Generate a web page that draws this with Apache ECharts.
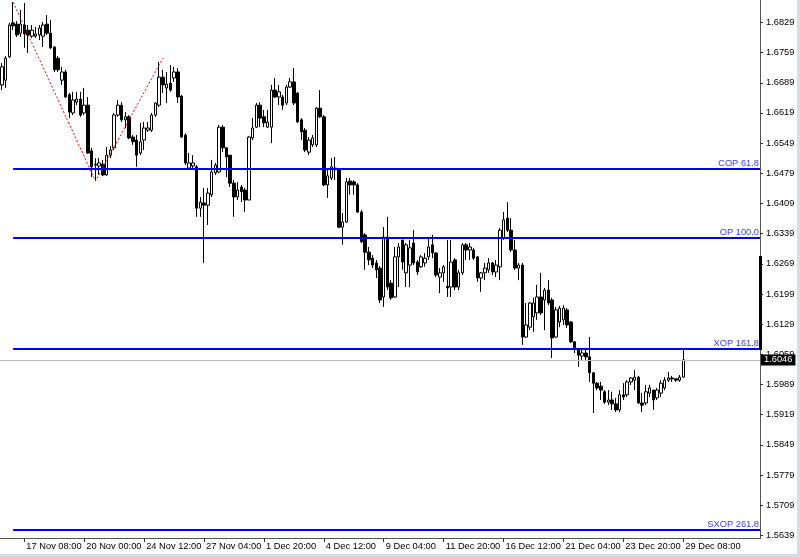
<!DOCTYPE html>
<html><head><meta charset="utf-8">
<script src="https://cdn.jsdelivr.net/npm/echarts@6/dist/echarts.min.js"></script>
<style>html,body{margin:0;padding:0;background:#fff;overflow:hidden}#c{width:800px;height:557px}</style>
</head><body><div id="c"></div>
<script>
const barCount = 203;
const tickIndex = [6, 22, 38, 54, 70, 86, 102, 118, 134, 150, 166, 182];
const tickLabels = ['17 Nov 08:00', '20 Nov 00:00', '24 Nov 12:00', '27 Nov 04:00', '1 Dec 20:00', '4 Dec 12:00', '9 Dec 04:00', '11 Dec 20:00', '16 Dec 12:00', '21 Dec 04:00', '23 Dec 20:00', '29 Dec 08:00'];
const priceTicks = [1.5639, 1.5709, 1.5779, 1.5849, 1.5919, 1.5989, 1.6059, 1.6129, 1.6199, 1.6269, 1.6339, 1.6409, 1.6479, 1.6549, 1.6619, 1.6689, 1.6759, 1.6829];
const priceMin = 1.56328;
const priceMax = 1.6881;
// [open, close, low, high]
const ohlc = [
[1.6684,1.6726,1.6672,1.6735],[1.6695,1.6746,1.6677,1.6751],[1.6749,1.6823,1.6746,1.6828],[1.6828,1.6821,1.6811,1.6876],
[1.6825,1.6800,1.6795,1.6832],[1.6804,1.6825,1.6795,1.6858],[1.6823,1.6802,1.6770,1.6874],[1.6811,1.6800,1.6758,1.6823],
[1.6797,1.6811,1.6793,1.6823],[1.6797,1.6802,1.6793,1.6818],[1.6800,1.6816,1.6788,1.6823],[1.6797,1.6823,1.6772,1.6830],
[1.6825,1.6804,1.6800,1.6846],[1.6804,1.6770,1.6767,1.6835],[1.6772,1.6719,1.6714,1.6774],[1.6746,1.6719,1.6714,1.6751],
[1.6695,1.6714,1.6684,1.6726],[1.6714,1.6656,1.6654,1.6719],[1.6661,1.6621,1.6607,1.6665],[1.6619,1.6649,1.6614,1.6668],
[1.6644,1.6651,1.6637,1.6668],[1.6651,1.6614,1.6610,1.6668],[1.6619,1.6637,1.6614,1.6677],[1.6637,1.6526,1.6524,1.6656],
[1.6531,1.6494,1.6470,1.6538],[1.6500,1.6498,1.6461,1.6514],[1.6496,1.6503,1.6475,1.6514],[1.6500,1.6475,1.6473,1.6510],
[1.6475,1.6521,1.6473,1.6540],[1.6521,1.6533,1.6514,1.6542],[1.6538,1.6614,1.6533,1.6619],[1.6614,1.6637,1.6610,1.6649],
[1.6637,1.6603,1.6598,1.6644],[1.6603,1.6610,1.6584,1.6621],[1.6610,1.6561,1.6558,1.6614],[1.6563,1.6552,1.6545,1.6568],
[1.6556,1.6521,1.6494,1.6568],[1.6526,1.6552,1.6521,1.6596],[1.6556,1.6584,1.6533,1.6598],[1.6579,1.6584,1.6575,1.6598],
[1.6579,1.6614,1.6575,1.6619],[1.6614,1.6642,1.6610,1.6644],[1.6637,1.6702,1.6633,1.6737],[1.6702,1.6684,1.6665,1.6719],
[1.6677,1.6686,1.6642,1.6714],[1.6688,1.6672,1.6668,1.6730],[1.6700,1.6714,1.6691,1.6726],
[1.6714,1.6656,1.6642,1.6723],[1.6658,1.6563,1.6561,1.6661],[1.6568,1.6503,1.6498,1.6572],[1.6491,1.6503,1.6487,1.6526],
[1.6496,1.6503,1.6487,1.6521],[1.6494,1.6398,1.6378,1.6498],[1.6398,1.6412,1.6378,1.6424],[1.6410,1.6405,1.6271,1.6445],
[1.6405,1.6433,1.6359,1.6445],[1.6429,1.6482,1.6424,1.6510],[1.6480,1.6498,1.6475,1.6503],[1.6482,1.6586,1.6480,1.6591],
[1.6586,1.6538,1.6528,1.6591],[1.6538,1.6517,1.6470,1.6540],[1.6521,1.6456,1.6447,1.6521],[1.6456,1.6424,1.6378,1.6463],
[1.6424,1.6440,1.6417,1.6459],[1.6447,1.6436,1.6412,1.6452],[1.6440,1.6417,1.6389,1.6445],[1.6417,1.6563,1.6417,1.6565],
[1.6561,1.6584,1.6556,1.6607],[1.6586,1.6637,1.6584,1.6642],[1.6637,1.6607,1.6586,1.6644],[1.6610,1.6596,1.6586,1.6626],
[1.6586,1.6598,1.6584,1.6626],[1.6586,1.6672,1.6549,1.6684],[1.6672,1.6656,1.6654,1.6700],[1.6656,1.6668,1.6637,1.6684],
[1.6656,1.6637,1.6626,1.6661],[1.6642,1.6679,1.6637,1.6684],[1.6679,1.6691,1.6677,1.6700],[1.6691,1.6642,1.6637,1.6723],
[1.6665,1.6598,1.6596,1.6668],[1.6603,1.6575,1.6556,1.6607],[1.6579,1.6533,1.6528,1.6584],[1.6528,1.6556,1.6521,1.6563],
[1.6545,1.6561,1.6540,1.6568],[1.6545,1.6630,1.6540,1.6633],[1.6630,1.6610,1.6607,1.6672],[1.6610,1.6452,1.6449,1.6614],
[1.6452,1.6473,1.6422,1.6487],[1.6468,1.6494,1.6463,1.6514],[1.6491,1.6487,1.6463,1.6517],[1.6487,1.6354,1.6352,1.6491],
[1.6354,1.6366,1.6313,1.6387],[1.6366,1.6459,1.6364,1.6468],
[1.6461,1.6452,1.6429,1.6468],[1.6459,1.6452,1.6429,1.6463],[1.6452,1.6389,1.6387,1.6456],[1.6389,1.6320,1.6317,1.6394],
[1.6336,1.6296,1.6255,1.6340],[1.6296,1.6278,1.6266,1.6308],[1.6282,1.6266,1.6259,1.6289],[1.6271,1.6255,1.6236,1.6278],
[1.6259,1.6185,1.6178,1.6264],[1.6192,1.6331,1.6169,1.6354],[1.6331,1.6215,1.6208,1.6378],[1.6224,1.6190,1.6185,1.6231],
[1.6192,1.6285,1.6190,1.6308],[1.6285,1.6308,1.6215,1.6317],[1.6324,1.6273,1.6255,1.6324],[1.6248,1.6313,1.6215,1.6317],
[1.6266,1.6306,1.6215,1.6324],[1.6317,1.6271,1.6266,1.6347],[1.6273,1.6250,1.6243,1.6278],[1.6262,1.6285,1.6259,1.6289],
[1.6271,1.6282,1.6262,1.6294],[1.6285,1.6308,1.6278,1.6329],[1.6313,1.6294,1.6282,1.6336],[1.6294,1.6243,1.6238,1.6296],
[1.6238,1.6248,1.6201,1.6259],[1.6248,1.6262,1.6227,1.6266],[1.6217,1.6213,1.6192,1.6324],[1.6215,1.6273,1.6192,1.6324],
[1.6278,1.6215,1.6208,1.6282],[1.6215,1.6248,1.6208,1.6255],[1.6248,1.6313,1.6243,1.6317],[1.6313,1.6301,1.6278,1.6317],
[1.6301,1.6308,1.6278,1.6317],[1.6301,1.6282,1.6278,1.6306],[1.6285,1.6236,1.6227,1.6287],[1.6236,1.6248,1.6204,1.6250],
[1.6248,1.6259,1.6231,1.6271],[1.6255,1.6271,1.6248,1.6282],[1.6271,1.6250,1.6243,1.6273],[1.6250,1.6266,1.6238,1.6278],
[1.6262,1.6347,1.6231,1.6352],[1.6329,1.6371,1.6324,1.6389],[1.6375,1.6347,1.6343,1.6412],[1.6347,1.6301,1.6296,1.6375],
[1.6301,1.6259,1.6255,1.6324],[1.6259,1.6266,1.6231,1.6271],[1.6266,1.6099,1.6081,1.6271],[1.6099,1.6127,1.6097,1.6178],
[1.6122,1.6178,1.6115,1.6180],[1.6146,1.6178,1.6111,1.6190],[1.6155,1.6192,1.6139,1.6220],[1.6192,1.6155,1.6150,1.6248],
[1.6185,1.6208,1.6115,1.6213],[1.6208,1.6178,1.6173,1.6231],[1.6185,1.6097,1.6050,1.6190],[1.6099,1.6162,1.6097,1.6169],
[1.6134,1.6166,1.6122,1.6171],[1.6139,1.6166,1.6127,1.6173],[1.6162,1.6127,1.6120,1.6166],[1.6134,1.6088,1.6085,1.6136],
[1.6088,1.6074,1.6062,1.6090],[1.6069,1.6057,1.6030,1.6074],[1.6055,1.6062,1.6046,1.6069],[1.6062,1.6053,1.6046,1.6074],
[1.6053,1.6016,1.5995,1.6099],[1.6016,1.5992,1.5923,1.6018],[1.5992,1.5981,1.5976,1.5995],[1.5985,1.5976,1.5953,1.5995],
[1.5972,1.5948,1.5944,1.5976],[1.5948,1.5953,1.5941,1.5976],[1.5953,1.5944,1.5930,1.5972],[1.5944,1.5930,1.5925,1.5958],
[1.5930,1.5965,1.5925,1.5976],[1.5965,1.5960,1.5953,1.5992],[1.5965,1.5995,1.5960,1.5999],[1.5995,1.6004,1.5988,1.6006],
[1.5999,1.6006,1.5976,1.6023],[1.6006,1.5946,1.5944,1.6009],[1.5946,1.5941,1.5925,1.5969],[1.5946,1.5972,1.5941,1.5988],
[1.5969,1.5981,1.5960,1.5988],[1.5976,1.5953,1.5930,1.5976],[1.5958,1.5976,1.5953,1.5981],[1.5969,1.5992,1.5960,1.5999],
[1.5981,1.5999,1.5976,1.6006],[1.5999,1.6004,1.5995,1.6018],[1.6004,1.6002,1.5995,1.6009],[1.6002,1.5999,1.5995,1.6004],
[1.5999,1.6006,1.5995,1.6011],[1.6006,1.6046,1.6004,1.6071]
];
const levelNames = ['COP 61.8', 'OP 100.0', 'XOP 161.8', 'SXOP 261.8'];
const levelValues = [1.6489, 1.6329, 1.6071, 1.5652];
const levelStartIndex = 3;
const zigzag = [[3, 1.6876], [25, 1.6461], [43, 1.6746]];
const lastPrice = 1.6046;
const lastBarRange = [1.6287, 1.6069];

const categories = [];
for (let i = 0; i < barCount; i++) {
  const k = tickIndex.indexOf(i);
  categories.push(k >= 0 ? tickLabels[k] : '');
}
const isTick = (idx) => tickIndex.indexOf(idx) >= 0;
const FONT = 'Liberation Sans';
const edge = barCount - 0.5;

const levelLines = levelValues.map((v, k) => [
  { coord: [levelStartIndex, v], name: levelNames[k],
    lineStyle: { color: '#0000ff', width: 2, type: 'solid' },
    label: { show: true, position: 'insideEndTop', formatter: levelNames[k], color: '#3a3aff',
             fontSize: 9.3, fontFamily: FONT, distance: [1, 1] } },
  { coord: [edge, v] }
]);

const chart = echarts.init(document.getElementById('c'), null, { renderer: 'canvas' });
chart.setOption({
  animation: false,
  backgroundColor: '#ffffff',
  textStyle: { fontFamily: FONT },
  grid: { left: 0, right: 40, top: 0, bottom: 19, containLabel: false },
  xAxis: [{
    type: 'category', data: categories, boundaryGap: true, position: 'bottom',
    axisLine: { show: true, onZero: false, lineStyle: { color: '#555', width: 1 } },
    axisTick: { show: true, alignWithLabel: true, length: 4, interval: (i) => isTick(i), lineStyle: { color: '#333' } },
    axisLabel: { show: true, interval: (i) => isTick(i), align: 'left', margin: 4, fontSize: 9.3, color: '#000',
                 fontFamily: FONT, padding: [0, 0, 0, 2] },
    splitLine: { show: false }
  }, {
    type: 'value', min: -0.5, max: edge, show: false, position: 'top',
    axisLine: { show: false, onZero: false }, splitLine: { show: false }
  }],
  yAxis: {
    type: 'value', position: 'right', min: priceMin, max: priceMax, scale: true,
    axisLine: { show: true, onZero: false, lineStyle: { color: '#555', width: 1 } },
    axisTick: { show: true, length: 3, customValues: priceTicks, lineStyle: { color: '#333' } },
    axisLabel: { show: true, customValues: priceTicks, formatter: (v) => v.toFixed(4), margin: 6, fontSize: 9.3,
                 color: '#000', fontFamily: FONT },
    splitLine: { show: false }
  },
  graphic: {
    elements: [
      { type: 'rect', shape: { x: 797, y: 0, width: 3, height: 557 }, style: { fill: '#d7dce5' }, silent: true },
      { type: 'rect', shape: { x: 0, y: 554, width: 800, height: 3 }, style: { fill: '#d7dce5' }, silent: true },
      { type: 'rect', shape: { x: 760, y: 0, width: 1, height: 539 }, style: { fill: '#555' }, silent: true },
      { type: 'rect', shape: { x: 0, y: 538, width: 761, height: 1 }, style: { fill: '#555' }, silent: true }
    ]
  },
  series: [
    {
      type: 'candlestick', data: ohlc, barWidth: 3, xAxisIndex: 0,
      itemStyle: { color: '#ffffff', color0: '#000000', borderColor: '#000000', borderColor0: '#000000',
                   borderColorDoji: '#000000', borderWidth: 1 },
      markLine: {
        silent: true, symbol: ['none', 'none'], animation: false, precision: 5,
        data: [
          { yAxis: lastPrice, lineStyle: { color: '#c0c0c0', width: 1, type: 'solid' },
            label: { show: true, position: 'end', formatter: lastPrice.toFixed(4), backgroundColor: '#000',
                     color: '#fff', fontSize: 9.3, fontFamily: FONT, padding: [1, 3, 1, 3], distance: 1 } }
        ]
      }
    },
    {
      type: 'line', data: zigzag, xAxisIndex: 1, symbol: 'none', z: 3, clip: false,
      lineStyle: { color: '#ff0000', width: 1, type: [2, 2] },
      markLine: {
        silent: true, symbol: ['none', 'none'], animation: false, precision: 5,
        data: [
          ...levelLines,
          [ { coord: [edge, lastBarRange[0]], lineStyle: { color: '#000', width: 3, type: 'solid' }, label: { show: false } },
            { coord: [edge, lastBarRange[1]] } ]
        ]
      }
    }
  ]
});
</script>
</body></html>
